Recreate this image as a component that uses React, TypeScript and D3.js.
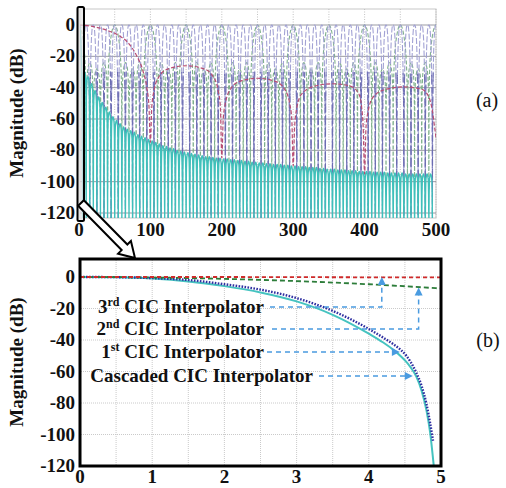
import React from "react";
import * as d3 from "d3";

// ---------------- Panel (a): full response, frequency 0..500 ----------------
const aXTicks = [0, 100, 200, 300, 400, 500];
const aYTicks = [0, -20, -40, -60, -80, -100, -120];
const aXGrid = [50, 100, 150, 200, 250, 300, 350, 400, 450, 500];

// 3rd CIC interpolator (red dashed) [freq, dB]
const thirdCicA: [number, number][] = [
  [0, 0], [20, -1], [40, -3.5], [55, -6.5], [70, -12], [80, -19], [90, -30], [95, -40], [98, -52], [100, -75],
  [102, -52], [105, -42], [112, -33], [125, -28], [150, -26], [175, -28], [188, -33], [195, -42], [198, -52], [200, -85],
  [202, -60], [205, -50], [212, -41], [225, -36], [250, -34], [275, -36], [288, -41], [295, -50], [298, -60], [300, -90],
  [302, -65], [305, -53], [312, -44], [330, -39], [355, -37.5], [380, -39], [392, -44], [396, -53], [398, -65], [400, -95],
  [402, -65], [405, -55], [412, -46], [430, -41], [455, -39.5], [480, -41], [490, -46], [495, -55], [498, -65], [500, -72],
];

// 1st CIC interpolator lobes (blue dashed): lobe centres
const firstCicCentres = [
  0, 10, 20, 30, 40, 50, 60, 70, 80, 90, 100, 110, 120, 130, 140, 150, 160, 170, 180, 190, 200,
  210, 220, 230, 240, 250, 260, 270, 280, 290, 300, 310, 320, 330, 340, 350, 360, 370, 380, 390, 400,
  410, 420, 430, 440, 450, 460, 470, 480, 490, 500,
];

// 2nd CIC interpolator (green dashed): one half period [offset, dB], repeated per period start
const secondCicStarts = [0, 50, 100, 150, 200, 250, 300, 350, 400, 450];
const secondHalfX = [0, 2, 3.5, 5, 6.5, 8, 9, 9.7, 10, 10.3, 11, 12.5, 15, 17.5, 19, 19.7, 20, 20.3, 21, 22.5, 25];
const secondHalfDb = [0, -1.1, -3.3, -7, -12, -20, -30, -45, -105, -50, -36, -28, -24, -27, -36, -50, -105, -52, -38, -31, -28];

// Cascaded (cyan): lobe peak levels for lobes starting at 5, 10, ..., 495
const cascadedPeaks = [
  -29.5, -33, -37.5, -42, -46, -49.5, -52.5, -55.5, -58.5,
  -61, -63, -65, -66.5, -67.5, -68.5, -70, -71, -72, -73,
  -74, -75, -76, -77, -77.5, -78.5, -79, -80, -80.5, -81,
  -81.5, -82, -82.5, -83, -83.5, -84, -84, -84.5, -85, -85,
  -85.5, -85.5, -86, -86, -86.5, -86.5, -87, -87, -87.5, -87.5,
  -88, -88, -88.5, -88.5, -89, -89, -89, -89.5, -89.5, -90,
  -90, -90.5, -90.5, -90.5, -91, -91, -91, -91.5, -91.5, -92,
  -92, -92, -92.5, -92.5, -92.5, -93, -93, -93, -93.5, -93.5,
  -93.5, -93.5, -94, -94, -94, -94, -94.5, -94.5, -94.5, -94.5,
  -94.5, -95, -95, -95, -95, -95, -95, -95, -95,
];
const cascadedLobeOffset = [0.35, 1, 2.5, 4, 4.65];
const cascadedLobeDrop = [-14, -3, 0, -3, -14];

// ---------------- Panel (b): zoom 0..5 ----------------
const bXTicks = [0, 1, 2, 3, 4, 5];
const bYTicks = [0, -20, -40, -60, -80, -100, -120];
const bXGrid = [0.5, 1, 1.5, 2, 2.5, 3, 3.5, 4, 4.5];
const bYGrid = [0, -20, -40, -60, -80, -100];

const thirdX = [0, 1, 2, 3, 4, 5];
const thirdDb = [0, 0, 0, -0.1, -0.2, -0.3];
const secondX = [0, 1, 2, 3, 4, 5];
const secondDb = [0, -0.3, -1.2, -2.6, -4.6, -7.3];
const firstX = [0, 0.5, 1, 1.5, 2, 2.5, 3, 3.5, 4, 4.2, 4.35, 4.45, 4.52, 4.58, 4.66, 4.73, 4.8, 4.85, 4.89];
const firstDb = [0, -0.1, -0.7, -1.9, -4.6, -8, -13.4, -21.5, -33, -38.5, -43, -46.6, -50, -54, -61, -69, -81, -93, -104];
const cascX = [0, 0.5, 1, 1.5, 2, 2.5, 3, 3.5, 4, 4.2, 4.35, 4.45, 4.52, 4.58, 4.66, 4.73, 4.8, 4.85, 4.9];
const cascDb = [0, -0.2, -1, -2.8, -5.8, -9.8, -15.5, -24, -36, -41.6, -46.6, -50.6, -53.9, -57.4, -63.4, -72, -85, -99, -120];

const FLOOR = -126;
const FONT = "'Liberation Serif', 'Times New Roman', serif";

type P = [number, number];

export default function App() {
  // scales
  const xA = d3.scaleLinear().domain([0, 500]).range([79, 436]);
  const yA = d3.scaleLinear().domain([0, -120]).range([25, 213]);
  const xB = d3.scaleLinear().domain([0, 5]).range([80, 441]);
  const yB = d3.scaleLinear().domain([0, -120]).range([277, 466]);

  const lineA = d3.line<P>().x((d) => xA(d[0])).y((d) => yA(d[1])).curve(d3.curveMonotoneX);
  const lineB = d3.line<P>().x((d) => xB(d[0])).y((d) => yB(d[1])).curve(d3.curveMonotoneX);

  // 1st CIC full-band: lobes mirrored from the panel (b) curve
  const firstPts: P[] = [];
  firstCicCentres.forEach((c) => {
    for (let i = firstX.length - 1; i >= 1; i--) firstPts.push([c - firstX[i], firstDb[i]]);
    firstPts.push([c, firstDb[0]]);
    for (let i = 1; i < firstX.length; i++) firstPts.push([c + firstX[i], firstDb[i]]);
    firstPts.push([c + 5, FLOOR]);
  });

  // 2nd CIC full-band
  const secondPts: P[] = [];
  secondCicStarts.forEach((s) => {
    secondHalfX.forEach((o, i) => secondPts.push([s + o, secondHalfDb[i]]));
    for (let i = secondHalfX.length - 2; i >= 1; i--) secondPts.push([s + 50 - secondHalfX[i], secondHalfDb[i]]);
  });
  secondPts.push([500, 0]);

  // cascaded full-band
  const cascPts: P[] = cascX.map((x, i) => [x, cascDb[i]] as P);
  cascPts.push([5, FLOOR]);
  cascadedPeaks.forEach((p, k) => {
    const s = 5 * (k + 1);
    cascadedLobeOffset.forEach((o, j) => cascPts.push([s + o, p + cascadedLobeDrop[j]]));
    cascPts.push([s + 5, FLOOR]);
  });

  const zip = (xs: number[], ys: number[]): P[] => xs.map((x, i) => [x, ys[i]] as P);

  // hollow arrow between panels
  const S = [81, 203];
  const T = [135, 258];
  const len = Math.hypot(T[0] - S[0], T[1] - S[1]);
  const u = [(T[0] - S[0]) / len, (T[1] - S[1]) / len];
  const n = [-u[1], u[0]];
  const hl = 15, hh = 9, sh = 4;
  const base = [T[0] - u[0] * hl, T[1] - u[1] * hl];
  const pt = (p: number[], k: number) => `${p[0] + n[0] * k},${p[1] + n[1] * k}`;
  const arrowPoly = [pt(S, sh), pt(base, sh), pt(base, hh), `${T[0]},${T[1]}`, pt(base, -hh), pt(base, -sh), pt(S, -sh)].join(" ");

  // annotations (panel b)
  const annBlue = "#4a9be0";
  const rows = [
    { num: "3", sup: "rd", rest: " CIC Interpolator", y: 307, textEnd: 264, x0: 270, kind: "up", ax: 4.18, tipDb: 0 },
    { num: "2", sup: "nd", rest: " CIC Interpolator", y: 329, textEnd: 264, x0: 272, kind: "up", ax: 4.69, tipDb: -6.6 },
    { num: "1", sup: "st", rest: " CIC Interpolator", y: 352, textEnd: 264, x0: 267, kind: "right", ax: 4.43, tipDb: 0 },
    { num: "Cascaded", sup: "", rest: " CIC Interpolator", y: 376, textEnd: 313, x0: 319, kind: "right", ax: 4.61, tipDb: 0 },
  ];

  const tick = { fontFamily: FONT, fontWeight: 700, fontSize: 19, fill: "#111" } as const;

  return (
    <svg width={506} height={488} style={{ position: "absolute", left: 0, top: 0, background: "#fff" }}>
      <defs>
        <clipPath id="clipA">
          <rect x={80} y={9} width={356} height={209} />
        </clipPath>
        <clipPath id="clipALow">
          <rect x={80} y={yA(-30)} width={356} height={218 - yA(-30)} />
        </clipPath>
        <clipPath id="clipB">
          <rect x={81} y={260} width={359} height={205} />
        </clipPath>
      </defs>
      <rect x={0} y={0} width={506} height={488} fill="#fff" />

      {/* ---------- Panel (a) ---------- */}
      <rect x={80} y={9} width={356} height={209} fill="#fff" stroke="#c8c8c8" strokeWidth={1} />
      {aXGrid.map((v) => (
        <line key={"ag" + v} x1={xA(v)} x2={xA(v)} y1={9} y2={218} stroke="#b4b4b4" strokeWidth={0.8} strokeDasharray="1 1.5" />
      ))}
      {aYTicks.map((v) => (
        <line key={"ah" + v} x1={80} x2={436} y1={yA(v)} y2={yA(v)} stroke="#8e8e98" strokeWidth={0.9} />
      ))}
      <g clipPath="url(#clipA)" fill="none">
        <path d={lineA(secondPts) || ""} stroke="#7fb08c" strokeWidth={1.1} strokeDasharray="4 2" />
        <path d={lineA(firstPts) || ""} stroke="#a2a2d4" strokeWidth={1.1} strokeDasharray="6 2" />
      </g>
      <g clipPath="url(#clipALow)" fill="none">
        <path d={lineA(firstPts) || ""} stroke="#6c6cb2" strokeWidth={1} strokeDasharray="9 3" />
      </g>
      <g clipPath="url(#clipA)" fill="none">
        <path d={lineA(cascPts) || ""} stroke="#3fc0ba" strokeWidth={1.4} />
        <path d={lineA(thirdCicA) || ""} stroke="#b84d72" strokeWidth={1.2} strokeDasharray="4 2" />
      </g>
      {aYTicks.map((v) => (
        <text key={"ayt" + v} x={75} y={yA(v) + 6} textAnchor="end" {...tick}>{v}</text>
      ))}
      {aXTicks.map((v) => (
        <text key={"axt" + v} x={xA(v)} y={236} textAnchor="middle" {...tick}>{v}</text>
      ))}
      <text transform="translate(23,113) rotate(-90)" textAnchor="middle" {...tick}>Magnitude (dB)</text>
      <text x={487} y={107} textAnchor="middle" fontFamily={FONT} fontSize={20} fill="#111">(a)</text>

      {/* highlight box and arrow */}
      <rect x={77.5} y={7} width={6.5} height={214} rx={1.5} fill="rgba(228,228,228,0.75)" stroke="#000" strokeWidth={2} />
      <polygon points={arrowPoly} fill="#fff" stroke="#000" strokeWidth={2} strokeLinejoin="miter" />

      {/* ---------- Panel (b) ---------- */}
      {bXGrid.map((v) => (
        <line key={"bg" + v} x1={xB(v)} x2={xB(v)} y1={260} y2={465} stroke="#c4c4c4" strokeWidth={0.9} strokeDasharray="1 1" />
      ))}
      {bYGrid.map((v) => (
        <line key={"bh" + v} x1={81} x2={440} y1={yB(v)} y2={yB(v)} stroke="#c4c4c4" strokeWidth={0.9} strokeDasharray="1 1" />
      ))}
      <g clipPath="url(#clipB)" fill="none">
        <path d={lineB(zip(cascX, cascDb)) || ""} stroke="#45c3c0" strokeWidth={2} />
        <path d={lineB(zip(firstX, firstDb)) || ""} stroke="#2f2fa0" strokeWidth={2.4} strokeDasharray="1.6 1.4" />
        <path d={lineB(zip(secondX, secondDb)) || ""} stroke="#2d7d3a" strokeWidth={1.8} strokeDasharray="5 3" />
        <path d={lineB(zip(thirdX, thirdDb)) || ""} stroke="#d02a2a" strokeWidth={1.8} strokeDasharray="4 3" />
      </g>
      <rect x={80} y={259} width={361} height={207} fill="none" stroke="#000" strokeWidth={3} />

      {/* annotations */}
      {rows.map((r, i) => {
        const ax = xB(r.ax);
        return (
          <g key={"ann" + i}>
            <text x={r.textEnd} y={r.y + 6} textAnchor="end" fontFamily={FONT} fontWeight={700} fontSize={19} fill="#111">
              {r.num}
              {r.sup ? (
                <tspan fontSize={12} dy={-7}>{r.sup}</tspan>
              ) : null}
              <tspan dy={r.sup ? 7 : 0}>{r.rest}</tspan>
            </text>
            {r.kind === "up" ? (
              <g>
                <polyline
                  points={`${r.x0},${r.y} ${ax},${r.y} ${ax},${yB(r.tipDb) + 7}`}
                  fill="none" stroke={annBlue} strokeWidth={1.5} strokeDasharray="5 4"
                />
                <polygon points={`${ax},${yB(r.tipDb)} ${ax - 4},${yB(r.tipDb) + 8} ${ax + 4},${yB(r.tipDb) + 8}`} fill={annBlue} />
              </g>
            ) : (
              <g>
                <line x1={r.x0} x2={ax - 7} y1={r.y} y2={r.y} stroke={annBlue} strokeWidth={1.5} strokeDasharray="5 4" />
                <polygon points={`${ax},${r.y} ${ax - 8},${r.y - 4} ${ax - 8},${r.y + 4}`} fill={annBlue} />
              </g>
            )}
          </g>
        );
      })}

      {bYTicks.map((v) => (
        <text key={"byt" + v} x={75} y={yB(v) + 6} textAnchor="end" {...tick}>{v}</text>
      ))}
      {bXTicks.map((v) => (
        <text key={"bxt" + v} x={xB(v)} y={483} textAnchor="middle" {...tick}>{v}</text>
      ))}
      <text transform="translate(23,362) rotate(-90)" textAnchor="middle" {...tick}>Magnitude (dB)</text>
      <text x={488} y={347} textAnchor="middle" fontFamily={FONT} fontSize={20} fill="#111">(b)</text>
    </svg>
  );
}
